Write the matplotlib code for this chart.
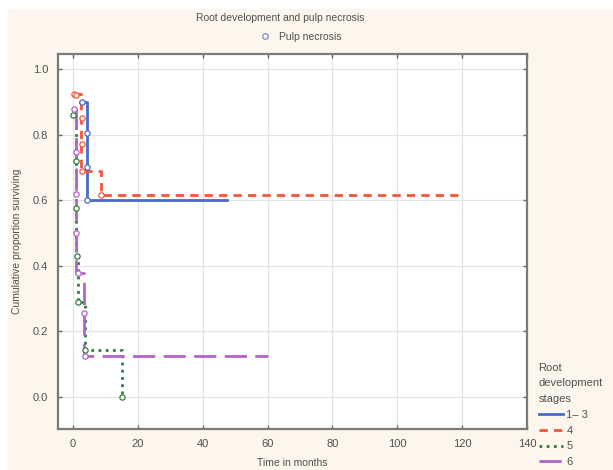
import matplotlib
matplotlib.use("Agg")
import matplotlib.pyplot as plt
from matplotlib.lines import Line2D
from matplotlib.patches import Rectangle

plt.rcParams['font.family'] = ['Liberation Sans', 'DejaVu Sans']

# ---- data ----
stage_labels = ["1\u2013 3", "4", "5", "6"]

t_13 = [2.3, 4.2, 47.5]
s_13 = [0.90, 0.60, 0.60]
ct_13 = [2.7, 4.2, 4.2, 4.2]
cs_13 = [0.90, 0.805, 0.70, 0.60]

t_4 = [0.3, 2.4, 8.8, 119.0]
s_4 = [0.925, 0.69, 0.615, 0.615]
ct_4 = [0.3, 0.9, 2.7, 2.7, 2.7, 8.8]
cs_4 = [0.925, 0.92, 0.85, 0.77, 0.69, 0.615]

t_5 = [0.1, 0.8, 1.6, 3.7, 15.0]
s_5 = [0.86, 0.43, 0.29, 0.143, 0.0]
ct_5 = [0.1, 0.8, 0.8, 1.2, 1.6, 3.7, 15.0]
cs_5 = [0.86, 0.72, 0.575, 0.43, 0.29, 0.143, 0.0]

t_6 = [0.4, 0.9, 3.5, 60.0]
s_6 = [0.878, 0.378, 0.125, 0.125]
ct_6 = [0.4, 0.9, 0.9, 0.9, 1.6, 3.5, 3.7]
cs_6 = [0.878, 0.748, 0.62, 0.50, 0.378, 0.256, 0.125]

x_ticks = [0, 20, 40, 60, 80, 100, 120, 140]
y_ticks = [0.0, 0.2, 0.4, 0.6, 0.8, 1.0]

colors = ["#4a6cc9", "#f4553a", "#2f7d3a", "#b363c9"]
styles = ["-", (0, (3, 2.2)), (0, (1, 1.6)), (0, (8, 3))]

series = [(t_13, s_13, ct_13, cs_13), (t_4, s_4, ct_4, cs_4),
          (t_5, s_5, ct_5, cs_5), (t_6, s_6, ct_6, cs_6)]

# ---- figure ----
fig = plt.figure(figsize=(6.13, 4.70), dpi=100)
fig.patch.set_facecolor("white")
fig.patches.append(Rectangle((8/613, 0), 1 - 8/613, 1 - 9/470,
                             transform=fig.transFigure, facecolor="#fcf6ec",
                             edgecolor="none", zorder=-10))

ax = fig.add_axes([58/613, 1 - 429/470, (527 - 58)/613, (429 - 54)/470])
ax.set_facecolor("white")

handles = []
for (t, s, ct, cs), c, ls, lab in zip(series, colors, styles, stage_labels):
    ax.step(t, s, where="post", color=c, linestyle=ls, lw=2.0, zorder=3)
    ax.plot(ct, cs, linestyle="none", marker="o", markersize=3.8,
            markerfacecolor="white", markeredgecolor=c, markeredgewidth=0.9,
            zorder=4)
    handles.append(Line2D([], [], color=c, linestyle=ls, lw=2.0, label=lab))

ax.set_xlim(-4.6, 140)
ax.set_ylim(-0.098, 1.046)
ax.set_xticks(x_ticks)
ax.set_yticks(y_ticks)
ax.set_yticklabels([f"{v:.1f}" for v in y_ticks])
ax.grid(True, color="#e2e2e2", lw=0.8)
ax.set_axisbelow(True)
ax.tick_params(direction="in", length=3, width=1, color="#666666",
               top=True, right=True, labelsize=8, labelcolor="#505050", pad=7)
for sp in ax.spines.values():
    sp.set_color("#7a7a7a")
    sp.set_linewidth(1.6)

ax.set_xlabel("Time in months", fontsize=7.5, color="#505050", labelpad=7)
ax.set_ylabel("Cumulative proportion surviving", fontsize=7.5,
              color="#505050", labelpad=8)

fig.text(280/613, 1 - 18/470, "Root development and pulp necrosis",
         ha="center", va="center", fontsize=7.5, color="#505050")
pn = Line2D([], [], linestyle="none", marker="o", markersize=4,
            markerfacecolor="white", markeredgecolor="#7a86c8",
            markeredgewidth=0.9, label="Pulp necrosis")
fig.legend(handles=[pn], loc="center", bbox_to_anchor=(298/613, 1 - 37/470),
           frameon=False, fontsize=7.5, handletextpad=0.3, borderpad=0,
           labelcolor="#505050")

leg = fig.legend(handles=handles, loc="upper left",
                 bbox_to_anchor=(533/613, 1 - 357/470),
                 title="Root\ndevelopment\nstages", frameon=False,
                 fontsize=8, title_fontsize=8, handlelength=2.2,
                 handletextpad=0.3, labelspacing=0.53, borderpad=0,
                 labelcolor="#505050", alignment="left")
leg.get_title().set_color("#505050")
leg.get_title().set_linespacing(1.7)

fig.savefig("out.png", dpi=100, facecolor=fig.get_facecolor())
